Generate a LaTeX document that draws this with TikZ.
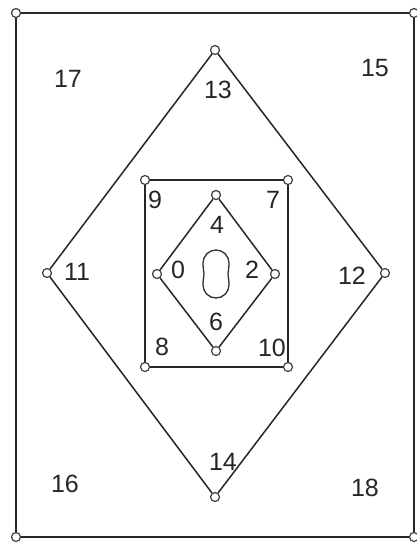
\documentclass[tikz,border=0pt]{standalone}
\usepackage{fontspec}
\setmainfont{Liberation Sans}
\usetikzlibrary{positioning}
\tikzset{
  pt/.style={circle,draw=black!75,fill=white,line width=1.2pt,inner sep=0pt,
             minimum size=9pt},
  ed/.style={draw=black!85,line width=1.5pt},
  lbl/.style={font=\fontsize{25}{29}\selectfont,text=black!85,inner sep=0pt},
}
\begin{document}
\begin{tikzpicture}[x=1pt,y=-1pt]
\useasboundingbox (0,0) rectangle (416,544);
  % ytterram
  \node[pt] (o1) at (16,13) {};
  \node[pt] (o2) at (414,13) {};
  \node[pt] (o3) at (16,537) {};
  \node[pt] (o4) at (414,537) {};
  % stor romb
  \node[pt] (dt) at (215,50) {};
  \node[pt] (dl) at (47,273) {};
  \node[pt] (dr) at (385,273) {};
  \node[pt] (db) at (215,497) {};
  % rektangel
  \node[pt] (r1) at (145,180) {};
  \node[pt] (r2) at (288,180) {};
  \node[pt] (r3) at (145,367) {};
  \node[pt] (r4) at (288,367) {};
  % liten romb
  \node[pt] (st) at (216,195) {};
  \node[pt] (sl) at (157,274) {};
  \node[pt] (sr) at (275,274) {};
  \node[pt] (sb) at (216,351) {};
  \draw[ed] (o1) -- (o2);
  \draw[ed] (o2) -- (o4);
  \draw[ed] (o4) -- (o3);
  \draw[ed] (o3) -- (o1);
  \draw[ed] (dt) -- (dr);
  \draw[ed] (dr) -- (db);
  \draw[ed] (db) -- (dl);
  \draw[ed] (dl) -- (dt);
  \draw[ed] (r1) -- (r2);
  \draw[ed] (r2) -- (r4);
  \draw[ed] (r4) -- (r3);
  \draw[ed] (r3) -- (r1);
  \draw[ed] (st) -- (sr);
  \draw[ed] (sr) -- (sb);
  \draw[ed] (sb) -- (sl);
  \draw[ed] (sl) -- (st);
  % hål i mitten
  \draw[draw=black!80,line width=1.3pt] (203,263) arc[start angle=180,end angle=360,radius=13]
    .. controls (229,269) and (228,271) .. (228,274)
    .. controls (228,277) and (229,279) .. (229,285)
    arc[start angle=0,end angle=180,radius=13]
    .. controls (203,279) and (204,277) .. (204,274)
    .. controls (204,271) and (203,269) .. (203,263) -- cycle;
  % etiketter
  \node[lbl] (n0) at (178,270) {0};
  \node[lbl] (n2) at (252,270) {2};
  \node[lbl] (n4) at (217,225) {4};
  \node[lbl] (n6) at (216,322) {6};
  \node[lbl] (n7) at (273,200) {7};
  \node[lbl] (n8) at (162,347) {8};
  \node[lbl] (n9) at (155,200) {9};
  \node[lbl] (n10) at (272,348) {10};
  \node[lbl] (n11) at (77,272) {11};
  \node[lbl] (n12) at (352,276) {12};
  \node[lbl] (n13) at (218,90) {13};
  \node[lbl] (n14) at (223,462) {14};
  \node[lbl] (n15) at (375,68) {15};
  \node[lbl] (n16) at (65,484) {16};
  \node[lbl] (n17) at (68,79) {17};
  \node[lbl] (n18) at (365,488) {18};
\end{tikzpicture}
\end{document}
